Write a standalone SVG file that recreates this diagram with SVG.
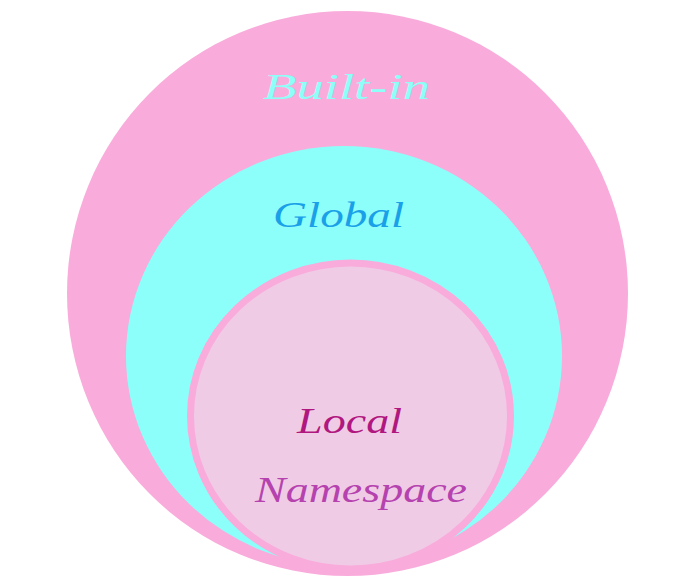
<svg xmlns="http://www.w3.org/2000/svg" width="690" height="588" viewBox="0 0 690 588">
<style>
.lbl{font-family:"Liberation Serif","DejaVu Serif",serif;font-style:italic;font-size:36px}
</style>
<rect width="690" height="588" fill="#ffffff"/>
<g id="builtin">
<ellipse cx="347.5" cy="293.5" rx="280.5" ry="282.5" fill="#f9acdb"/>
<text class="lbl" x="263" y="99" textLength="167" lengthAdjust="spacingAndGlyphs" fill="#8efff8">Built-in</text>
</g>
<g id="global">
<ellipse cx="344" cy="356" rx="218" ry="210" fill="#8cfffa"/>
<text class="lbl" x="273" y="227" textLength="131" lengthAdjust="spacingAndGlyphs" fill="#1aa0e8">Global</text>
</g>
<g id="local">
<ellipse cx="350.5" cy="416" rx="160" ry="153" fill="#f0cbe6" stroke="#f9acdb" stroke-width="7"/>
<text class="lbl" x="297" y="433" textLength="105" lengthAdjust="spacingAndGlyphs" fill="#b0177f">Local</text>
<text class="lbl" x="255" y="502" textLength="212" lengthAdjust="spacingAndGlyphs" fill="#b542ae">Namespace</text>
</g>
<g id="connectors"/>
</svg>
